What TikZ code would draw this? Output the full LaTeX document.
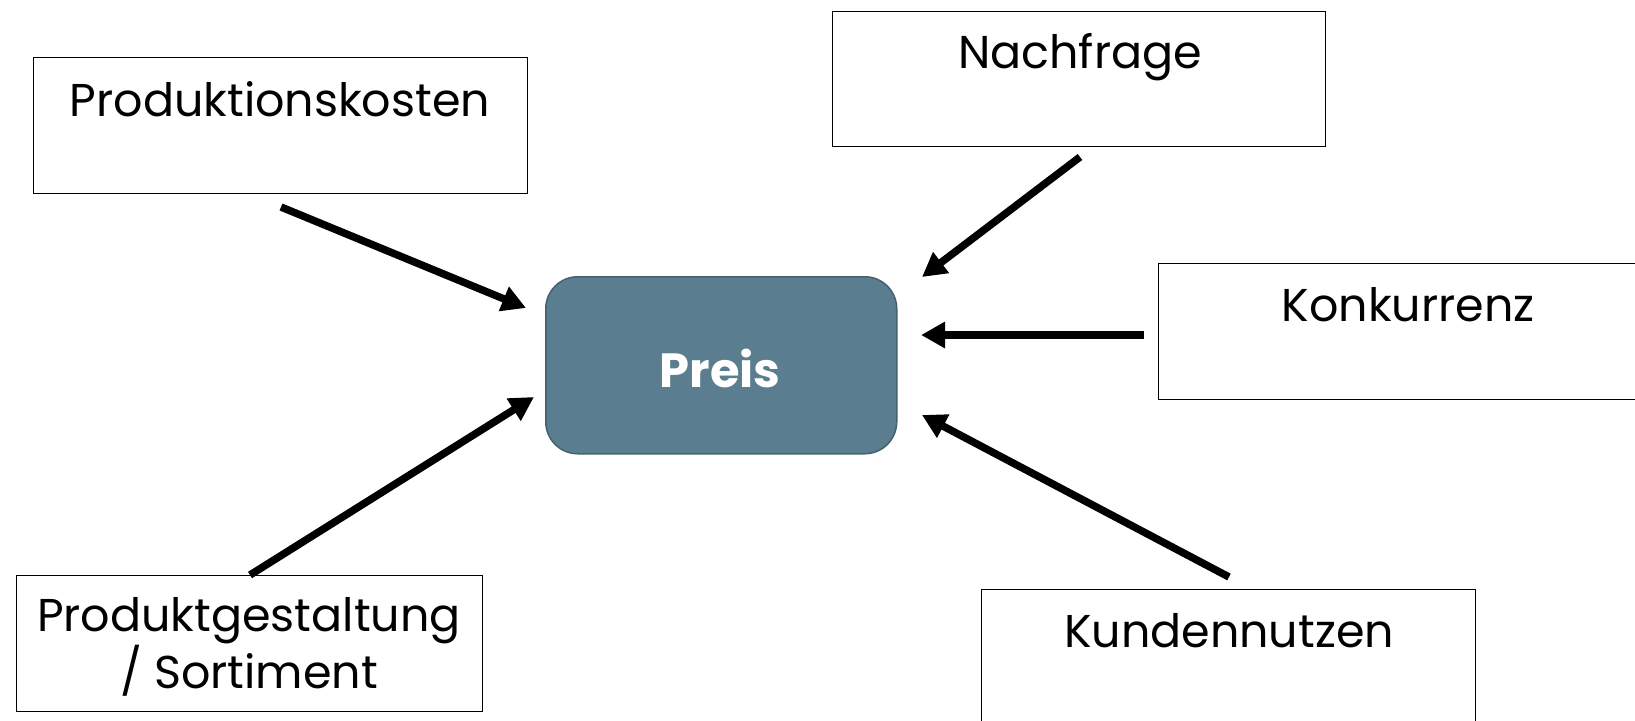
\documentclass[tikz,border=0pt]{standalone}
\usepackage{fontspec}
\setmainfont{Poppins}
\usetikzlibrary{arrows.meta}
\definecolor{preisfill}{HTML}{5B7D90}
\definecolor{preisdraw}{HTML}{44616F}
\begin{document}
\begin{tikzpicture}[x=1pt,y=-1pt,
  box/.style={draw=black, line width=1.3pt, fill=white, inner sep=0pt, anchor=north west},
  lbl/.style={font=\fontsize{46}{55}\selectfont, anchor=base, inner sep=0pt, align=center},
  conn/.style={line width=7.5pt, -{Triangle[length=24pt,width=25pt]}}]
\useasboundingbox (0,0) rectangle (1635,720);
\clip (0,0) rectangle (1635,720);
\fill[white] (0,0) rectangle (1635,720);
% boxes
\node[box, minimum width=494pt, minimum height=136pt] (pk) at (33,57) {};
\node[box, minimum width=493pt, minimum height=135pt] (nf) at (832,11) {};
\node[box, minimum width=490pt, minimum height=136pt] (ko) at (1158,263) {};
\node[box, minimum width=494pt, minimum height=150pt] (kn) at (981,589) {};
\node[box, minimum width=466pt, minimum height=136pt] (pg) at (16,575) {};
\node[draw=preisdraw, fill=preisfill, line width=1.5pt, rounded corners=32pt,
      minimum width=351pt, minimum height=177pt, anchor=north west, inner sep=0pt] (preis) at (545,276) {};
% labels
\node[lbl] (pkt) at (280,116) {Produktionskosten};
\node[lbl] (nft) at (1080,68) {Nachfrage};
\node[lbl] (kot) at (1408,321) {Konkurrenz};
\node[lbl] (knt) at (1229,647) {Kundennutzen};
\node[lbl] (pgt) at (249,688) {Produktgestaltung\\/ Sortiment};
\node[font=\fontsize{48}{55}\selectfont\bfseries, text=white, anchor=base, inner sep=0pt] (preist) at (720,387) {Preis};
% connector endpoints
\coordinate (pkA) at (281,207);  \coordinate (pkB) at (526,308);
\coordinate (nfA) at (1080,157); \coordinate (nfB) at (922,277);
\coordinate (koA) at (1144,335); \coordinate (koB) at (921,335);
\coordinate (pgA) at (250,575);  \coordinate (pgB) at (534,397);
\coordinate (knA) at (1229,577); \coordinate (knB) at (922,415);
\draw[conn] (pkA) -- (pkB);
\draw[conn] (nfA) -- (nfB);
\draw[conn] (koA) -- (koB);
\draw[conn] (pgA) -- (pgB);
\draw[conn] (knA) -- (knB);
\end{tikzpicture}
\end{document}
